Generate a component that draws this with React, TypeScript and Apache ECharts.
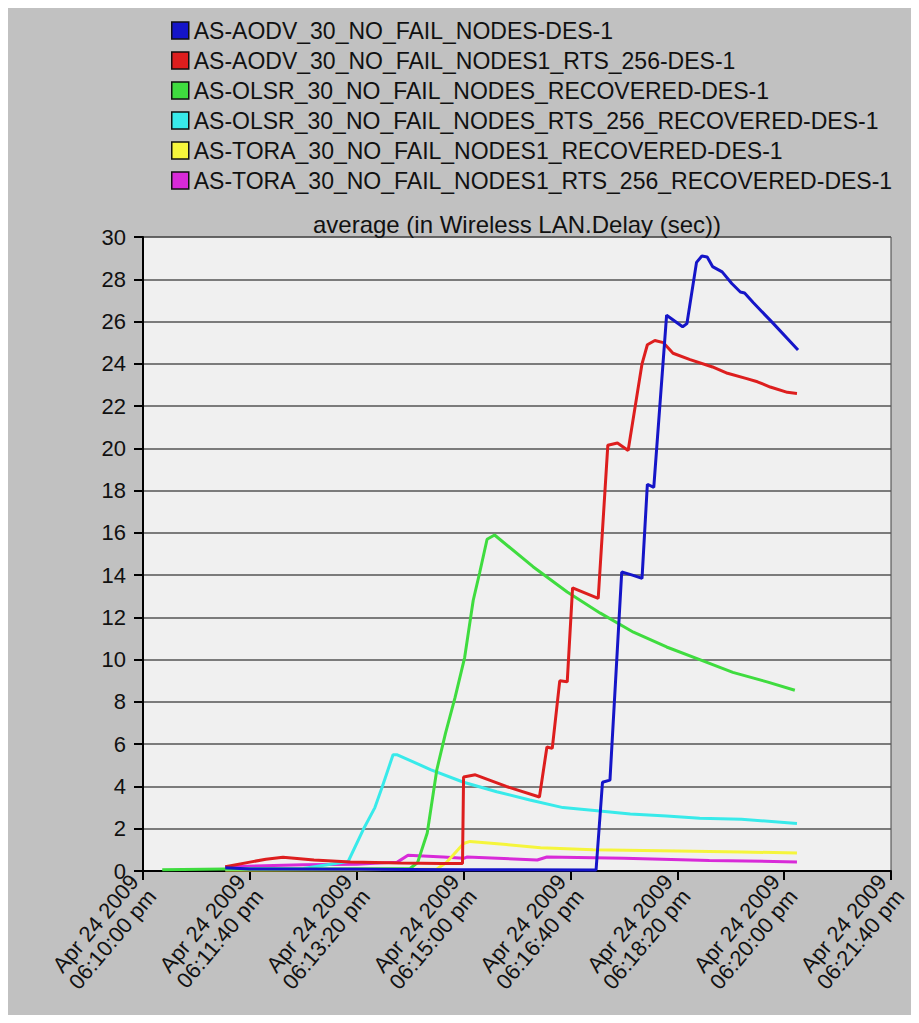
import React, { useEffect, useRef } from "react";
import * as echarts from "echarts";

// Legend names (in legend order)
const seriesNames = [
  "AS-AODV_30_NO_FAIL_NODES-DES-1",
  "AS-AODV_30_NO_FAIL_NODES1_RTS_256-DES-1",
  "AS-OLSR_30_NO_FAIL_NODES_RECOVERED-DES-1",
  "AS-OLSR_30_NO_FAIL_NODES_RTS_256_RECOVERED-DES-1",
  "AS-TORA_30_NO_FAIL_NODES1_RECOVERED-DES-1",
  "AS-TORA_30_NO_FAIL_NODES1_RTS_256_RECOVERED-DES-1",
];
const seriesColors = ["#1515c8", "#dd1e1e", "#3fdc3f", "#38eaea", "#f5f53c", "#d82ad8"];

// X tick labels (every 100 s from 06:10:00 pm)
const xTickLabels = [
  "Apr 24 2009\n06:10:00 pm",
  "Apr 24 2009\n06:11:40 pm",
  "Apr 24 2009\n06:13:20 pm",
  "Apr 24 2009\n06:15:00 pm",
  "Apr 24 2009\n06:16:40 pm",
  "Apr 24 2009\n06:18:20 pm",
  "Apr 24 2009\n06:20:00 pm",
  "Apr 24 2009\n06:21:40 pm",
];

// [seconds after 06:10:00 pm, delay (sec)]
const aodv: [number, number][] = [
  [77, 0.15], [100, 0.1], [200, 0.08], [300, 0.06], [424, 0.05], [430, 4.2], [437, 4.3],
  [448, 14.15], [458, 14.0], [467, 13.85], [472, 18.3], [478, 18.15], [490, 26.3],
  [505, 25.75], [509, 25.9], [518, 28.8], [523, 29.1], [528, 29.05], [533, 28.6],
  [542, 28.35], [551, 27.8], [559, 27.4], [563, 27.35], [571, 26.9], [590, 25.9], [613, 24.65],
];
const aodvRts: [number, number][] = [
  [77, 0.2], [100, 0.42], [115, 0.56], [131, 0.65], [160, 0.52], [194, 0.43], [240, 0.38],
  [280, 0.35], [299, 0.35], [300, 4.45], [311, 4.55], [340, 4.0], [371, 3.5], [378, 5.87],
  [383, 5.8], [390, 9.0], [397, 8.95], [402, 13.4], [426, 12.9], [435, 20.15], [444, 20.25],
  [454, 19.9], [467, 24.0], [472, 24.9], [479, 25.1], [487, 25.0], [496, 24.5], [512, 24.2],
  [533, 23.85], [547, 23.55], [565, 23.3], [575, 23.15], [587, 22.9], [603, 22.65], [612, 22.6],
];
const olsr: [number, number][] = [
  [18, 0.06], [77, 0.1], [150, 0.1], [250, 0.12], [257, 0.4], [266, 1.8], [275, 4.8],
  [283, 6.5], [292, 8.2], [301, 10.1], [309, 12.8], [315, 14.1], [322, 15.7], [329, 15.9],
  [365, 14.4], [397, 13.2], [428, 12.2], [459, 11.3], [490, 10.6], [521, 10.0], [552, 9.4],
  [584, 8.95], [610, 8.55],
];
const olsrRts: [number, number][] = [
  [77, 0.1], [150, 0.12], [192, 0.45], [206, 1.95], [217, 3.0], [224, 4.0], [234, 5.5],
  [238, 5.5], [269, 4.8], [300, 4.2], [331, 3.75], [362, 3.36], [393, 3.0], [425, 2.85],
  [456, 2.7], [490, 2.6], [521, 2.5], [560, 2.45], [612, 2.25],
];
const tora: [number, number][] = [
  [77, 0.05], [200, 0.06], [275, 0.1], [284, 0.4], [300, 1.3], [306, 1.4], [340, 1.25],
  [372, 1.1], [421, 1.0], [500, 0.95], [560, 0.9], [612, 0.85],
];
const toraRts: [number, number][] = [
  [77, 0.2], [150, 0.3], [200, 0.32], [238, 0.42], [248, 0.75], [281, 0.66], [300, 0.6],
  [303, 0.66], [369, 0.52], [378, 0.66], [450, 0.6], [530, 0.5], [612, 0.43],
];

const seriesData = [aodv, aodvRts, olsr, olsrRts, tora, toraRts];

const FONT = "'Liberation Sans', Arial, sans-serif";

export default function App() {
  const ref = useRef<HTMLDivElement>(null);
  useEffect(() => {
    const chart = echarts.init(ref.current!, null, { renderer: "svg" });
    const order = [5, 4, 3, 2, 1, 0]; // blue drawn last (on top)
    chart.setOption({
      animation: false,
      backgroundColor: "#c1c1c1",
      title: {
        text: "average (in Wireless LAN.Delay (sec))",
        left: 509,
        top: 203,
        textAlign: "center",
        padding: 0,
        textStyle: { fontFamily: FONT, fontSize: 24, fontWeight: "normal", color: "#111", lineHeight: 26 },
      },
      legend: {
        data: seriesNames,
        orient: "vertical",
        left: 163,
        top: 11,
        padding: 0,
        itemGap: 7,
        itemWidth: 17,
        itemHeight: 17,
        icon: "rect",
        itemStyle: { borderColor: "#111", borderWidth: 1.5 },
        textStyle: { fontFamily: FONT, fontSize: 23, color: "#111", lineHeight: 23 },
      },
      grid: {
        left: 135,
        top: 229,
        width: 748,
        height: 634,
        show: true,
        backgroundColor: "#f0f0f0",
        borderColor: "#444",
        borderWidth: 1,
      },
      xAxis: {
        type: "value",
        min: 0,
        max: 700,
        interval: 100,
        axisLine: { show: true, lineStyle: { color: "#000", width: 2 } },
        axisTick: { show: true, length: 9, lineStyle: { color: "#000", width: 2 } },
        splitLine: { show: false },
        axisLabel: {
          rotate: 50,
          margin: 14,
          fontFamily: FONT,
          fontSize: 22,
          lineHeight: 23,
          color: "#111",
          formatter: (v: number) => xTickLabels[Math.round(v / 100)] ?? "",
        },
      },
      yAxis: {
        type: "value",
        min: 0,
        max: 30,
        interval: 2,
        axisLine: { show: true, lineStyle: { color: "#000", width: 2 } },
        axisTick: { show: true, length: 9, lineStyle: { color: "#000", width: 2 } },
        splitLine: { show: true, lineStyle: { color: "#555", width: 1.5 } },
        axisLabel: { margin: 17, fontFamily: FONT, fontSize: 22, color: "#111" },
      },
      series: order.map((i) => ({
        name: seriesNames[i],
        type: "line",
        data: seriesData[i],
        showSymbol: false,
        symbol: "none",
        color: seriesColors[i],
        lineStyle: { color: seriesColors[i], width: 3 },
      })),
    });
    return () => chart.dispose();
  }, []);
  return <div ref={ref} style={{ width: 911, height: 1007 }} />;
}
